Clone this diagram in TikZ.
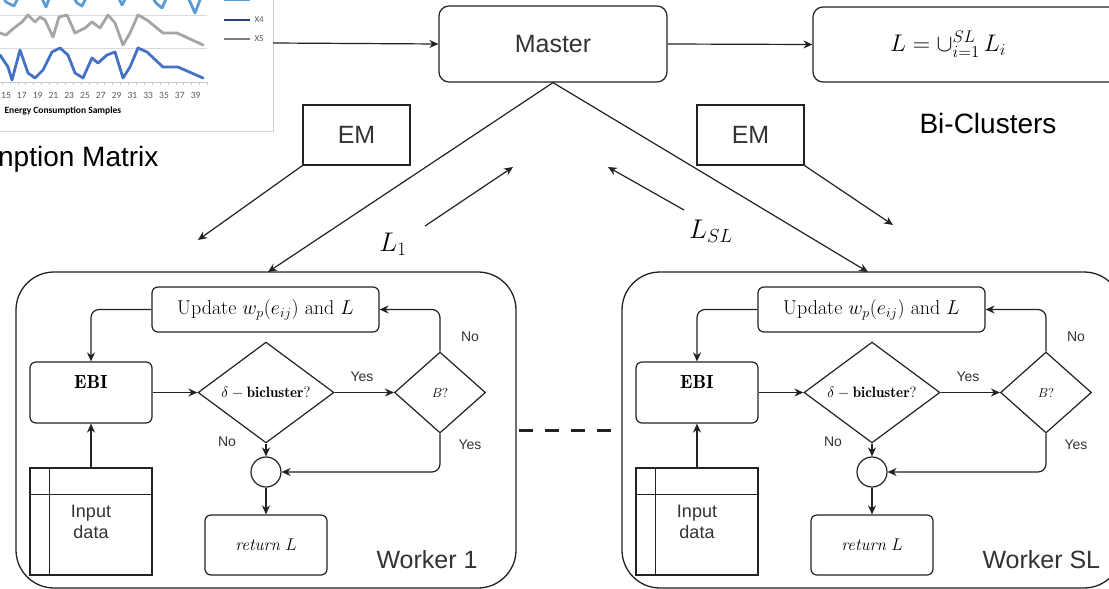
\documentclass[tikz,border=0pt]{standalone}
\usepackage{fix-cm}
\usepackage{fontspec}
\usetikzlibrary{arrows.meta,shapes.geometric}
\newfontfamily\arialfont{Liberation Sans}
\newfontfamily\calfont{Carlito}
\newcommand\fsz[1]{\fontsize{#1}{#1}\selectfont}
\definecolor{txtgray}{HTML}{333333}
\definecolor{linec}{HTML}{222222}
\definecolor{gridc}{HTML}{D9D9D9}
\definecolor{framec}{HTML}{D0D0D0}
\definecolor{xthree}{HTML}{5B9BD5}
\definecolor{xfour}{HTML}{4472C4}
\definecolor{xfourleg}{HTML}{264478}
\definecolor{xfive}{HTML}{A5A5A5}
\definecolor{xfiveleg}{HTML}{7F7F7F}
\definecolor{tickc}{HTML}{595959}
\tikzset{
  conn/.style={draw=linec, line width=1.2pt, -{Stealth[length=9pt,width=8pt]}},
  flowbox/.style={draw=linec, line width=1.2pt, rounded corners=6pt, inner sep=0pt},
  sqbox/.style={draw=linec, line width=1.2pt, inner sep=0pt},
  dia/.style={diamond, draw=linec, line width=1.2pt, inner sep=0pt},
  sanslab/.style={font=\arialfont\fsz{14}, text=txtgray},
  chartline/.style={line width=2.8pt, line join=round, line cap=round},
  ticklab/.style={font=\calfont\fsz{9.5}, text=tickc},
  legtxt/.style={font=\calfont\fsz{9}, text=tickc, anchor=west},
  workerframe/.style={draw=linec, line width=1.3pt, rounded corners=38pt, inner sep=0pt, minimum width=500pt, minimum height=316pt},
}
\begin{document}
\begin{tikzpicture}[x=1pt,y=-1pt]
\useasboundingbox (0,0) rectangle (1109,589);
\fill[white] (0,0) rectangle (1109,589);

% ---------- chart (cropped) ----------
\begin{scope}
\clip (0,0) rectangle (273,131);
\draw[gridc, line width=0.8pt] (0,15) -- (207,15) (0,48) -- (207,48);
\draw[gridc!80!gray, line width=0.8pt] (0,82) -- (207,82);
\foreach \k in {0,...,26} \draw[gridc!80!gray, line width=0.6pt] ({2+\k*7.9},82) -- ++(0,3);
\draw[chartline, xthree] plot coordinates {(0,-8) (6,2) (14,6) (22,-10) (38,-10) (46,7) (53,-12) (69,-10) (77,3) (82,6) (90,-10) (116,-8) (122,5) (130,-10) (148,-10) (156,3) (162,8) (170,-10) (187,-5) (195,13) (203,-8)};
\draw[chartline, xfive] plot coordinates {(0,33) (6,35) (14,28) (22,22) (28,15) (35,22) (40,17) (45,20) (53,37) (59,17) (67,15) (75,33) (85,28) (92,22) (100,28) (108,15) (115,23) (123,45) (130,33) (138,15) (147,20) (163,33) (177,33) (203,45)};
\draw[chartline, xfour] plot coordinates {(0,55) (8,67) (12,80) (20,50) (28,73) (35,78) (43,70) (52,52) (60,48) (68,55) (75,73) (83,78) (92,58) (98,63) (107,55) (115,52) (123,78) (130,67) (138,48) (147,52) (163,67) (178,67) (203,78)};
\foreach \n in {15,17,...,39} \node[ticklab] (tk\n) at ({6+(\n-15)*7.9},95) {\n};
\node[font=\calfont\bfseries\fsz{9.5}, anchor=west] (xlab) at (1,111) {Energy Consumption Samples};
\draw[xthree, line width=2.8pt] (224,0) -- (250,0);
\draw[xfourleg, line width=2.8pt] (224,20) -- (250,20);
\draw[xfiveleg, line width=2.8pt] (224,39) -- (250,39);
\node[legtxt] (lg3) at (251,-2) {X3};
\node[legtxt] (lg4) at (251,20) {X4};
\node[legtxt] (lg5) at (251,39) {X5};
\end{scope}
\draw[framec, line width=0.9pt] (273,0) -- (273,131) -- (0,131);
\coordinate (chartR) at (273,43);
\node[anchor=east, font=\arialfont\fsz{28}] (cm) at (162,159) {nption Matrix};

% ---------- master / result ----------
\node[flowbox, rounded corners=10pt, minimum width=228pt, minimum height=76pt, font=\arialfont\fsz{25}, text=txtgray] (master) at (553,44) {Master};
\node[flowbox, rounded corners=10pt, minimum width=312pt, minimum height=75pt, font=\fsz{24}] (res) at (969,44.5) {\hspace*{-42pt}$L=\cup_{i=1}^{SL}\,L_i$};
\node[font=\arialfont\fsz{28}] (bic) at (988,123) {Bi-Clusters};
\draw[conn] (chartR) -- (master.west);
\draw[conn] (master.east) -- (res.west);

% ---------- EM boxes and arrows ----------
\node[sqbox, minimum width=107pt, minimum height=60pt, font=\arialfont\fsz{25}, text=txtgray] (em1) at (356.5,135) {EM};
\node[sqbox, minimum width=107pt, minimum height=60pt, font=\arialfont\fsz{25}, text=txtgray] (em2) at (750.5,135) {EM};
\coordinate (em1end) at (198,240);
\coordinate (em2end) at (893,225);
\draw[conn] (em1.south west) -- (em1end);
\draw[conn] (em2.south east) -- (em2end);

\coordinate (w1in) at (268,272);
\coordinate (w2in) at (868,272);
\draw[conn] (master.south) -- (w1in);
\draw[conn] (master.south) -- (w2in);

\coordinate (l1s) at (425,226);
\coordinate (l1e) at (513,167);
\coordinate (lsls) at (684,210);
\coordinate (lsle) at (608,167);
\draw[conn] (l1s) -- (l1e);
\draw[conn] (lsls) -- (lsle);
\node[font=\fsz{27}] (lone) at (393,244) {$L_1$};
\node[font=\fsz{27}] (lsl) at (711,231) {$L_{SL}$};

% ---------- workers ----------
\foreach \i/\dx/\wl in {1/0/Worker 1, 2/606/Worker SL}{
\begin{scope}[xshift=\dx pt]
\node[workerframe] (wf\i) at (266,430) {};
\node[flowbox, minimum width=227pt, minimum height=45pt, font=\fsz{20}] (upd\i) at (265.5,309.5) {Update $w_p(e_{ij})$ and $L$};
\node[flowbox, minimum width=122pt, minimum height=61pt, label={[anchor=center, yshift=-21pt, font=\fsz{19}]north:$\mathbf{EBI}$}] (ebi\i) at (91,392.5) {};
\node[dia, minimum width=136pt, minimum height=75pt, font=\fsz{15}] (del\i) at (266,392.5) {$\delta - \mathbf{bicluster?}$};
\node[dia, minimum width=91pt, minimum height=81pt, font=\fsz{13}] (bq\i) at (440,392.5) {$B?$};
\node[circle, draw=linec, line width=1.2pt, minimum size=30pt, inner sep=0pt] (circ\i) at (266,472) {};
\node[flowbox, minimum width=122pt, minimum height=60pt, font=\fsz{17}] (ret\i) at (266,545) {\textit{return} $L$};
\node[sqbox, minimum width=122pt, minimum height=107pt, align=center, font=\arialfont\fontsize{18}{21}\selectfont, text=txtgray] (inp\i) at (91,521.5) {Input\\data};
\draw[linec, line width=1.2pt] ([xshift=20pt]inp\i.north west) -- ([xshift=20pt]inp\i.south west);
\draw[linec, line width=1.2pt] ([yshift=-27pt]inp\i.north west) -- ([yshift=-27pt]inp\i.north east);
\draw[conn, rounded corners=8pt] (upd\i.west) -| (ebi\i.north);
\draw[conn] (inp\i.north) -- (ebi\i.south);
\draw[conn] (ebi\i.east) -- (del\i.west);
\draw[conn] (del\i.east) -- (bq\i.west);
\draw[conn, rounded corners=8pt] (bq\i.north) |- (upd\i.east);
\draw[conn, rounded corners=8pt] (bq\i.south) |- (circ\i.east);
\draw[conn] (del\i.south) -- (circ\i.north);
\draw[conn] (circ\i.south) -- (ret\i.north);
\node[sanslab] (yes\i a) at (362,377) {Yes};
\node[sanslab] (no\i a) at (470,337) {No};
\node[sanslab] (yes\i b) at (470,445) {Yes};
\node[sanslab] (no\i b) at (227,442) {No};
\node[anchor=west, font=\arialfont\fsz{25}, text=txtgray] (wl\i) at (373,560) {\wl};
\end{scope}
}
\draw[linec, line width=3pt, dash pattern=on 14pt off 12pt, shorten <=2pt, shorten >=10pt] (wf1.east) -- (wf2.west);
\end{tikzpicture}
\end{document}
